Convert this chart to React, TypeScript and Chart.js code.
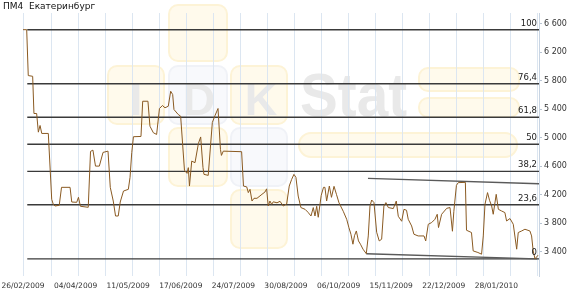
import React, { useEffect, useRef } from 'react';
import { Chart, registerables } from 'chart.js';

Chart.register(...registerables);

const chartTitle = 'ПМ4  Екатеринбург';

// position along the axis (label interval = 37 units)
const priceX = [
  0, 2.6, 3.7, 6.8, 7.7, 9.6, 10.8, 12, 13.2, 17.8,
  20.2, 21.3, 22.5, 25.5, 27.1, 33.1, 34.3, 37.8, 39, 40.4,
  45.9, 47.5, 49.2, 51, 53.7, 56.3, 59.8, 61.4, 63.5, 65.1,
  67, 68.4, 70.7, 74.1, 75.3, 76.5, 77.7, 83, 84.2, 87.9,
  89.3, 91.7, 94, 96, 98.1, 99.9, 102.2, 103.9, 105.3, 106.2,
  109.2, 110.9, 113.6, 115.4, 116.3, 117.1, 118.7, 121, 123.4, 125,
  126.6, 127.3, 130.3, 133.2, 135.1, 137.2, 138.9, 139.6, 140.9, 153.8,
  155.1, 157.4, 158.5, 159.7, 161.1, 162.5, 164.6, 168.1, 170.2, 171.4,
  172.5, 173.7, 174.9, 176.1, 178.7, 180.8, 183.1, 185.5, 187.3, 189,
  190.6, 192, 193.6, 195.5, 198.4, 200.5, 202.6, 204.2, 205.4, 206.6,
  207.7, 209.8, 211.4, 212.4, 213.6, 215.5, 217, 218.8, 220.5, 222.3,
  225.3, 227.7, 229.3, 230.7, 232.1, 233.2, 234.5, 236, 237.4, 239.2,
  241.5, 242.9, 244.1, 245.3, 246.9, 248.8, 250.6, 252.3, 253.9, 255.3,
  257, 260.5, 262.6, 264, 266.4, 268, 269.8, 271, 273.4, 275,
  278, 282.1, 283.3, 285.1, 287.5, 289.8, 291.4, 292.3, 294.5, 298.1,
  300.4, 302.1, 303.1, 304.9, 306.2, 311.2, 312, 315.5, 316.7, 320,
  322.6, 323.8, 325, 326.8, 328.2, 329.7, 330.8, 332.9, 334.4, 336.7,
  339, 340.2, 342.6, 344.9, 347.3, 348.4, 350.8, 353.1, 356.6, 357.8,
  358.9, 360.2, 362.3,
];

const priceValues = [
  6516, 6516, 5872, 5862, 5340, 5340, 5078, 5172, 5060, 5060,
  4136, 4066, 4042, 4052, 4304, 4304, 4098, 4094, 4164, 4038,
  4024, 4808, 4826, 4602, 4602, 4794, 4812, 4304, 4112, 3902,
  3902, 4098, 4252, 4276, 4444, 4790, 5014, 5018, 5512, 5512,
  5162, 5070, 5046, 5410, 5452, 5420, 5442, 5652, 5606, 5396,
  5326, 5302, 4542, 4500, 4580, 4322, 4672, 4650, 4920, 5011,
  4584, 4486, 4472, 5214, 5312, 5410, 4836, 4752, 4812, 4804,
  4322, 4310, 4230, 4276, 4112, 4150, 4150, 4206, 4238, 4283,
  4042, 4112, 4066, 4101, 4087, 4108, 4042, 4073, 4322, 4416,
  4486, 4444, 4182, 4020, 3996, 3954, 3902, 4020, 3902, 4038,
  3884, 4192, 4304, 4304, 4112, 4322, 4164, 4318, 4206, 4087,
  3968, 3856, 3737, 3646, 3506, 3625, 3692, 3552, 3506, 3436,
  3373, 3622, 4042, 4126, 4090, 3674, 3552, 3576, 4042, 4090,
  4020, 4006, 4112, 3898, 3828, 3996, 3982, 3856, 3762, 3646,
  3622, 3622, 3552, 3786, 3810, 3856, 3926, 3740, 3926, 4010,
  4020, 3688, 3968, 4332, 4370, 4374, 3702, 3670, 3412, 3390,
  3366, 3622, 4066, 4230, 4122, 4042, 3926, 4206, 3996, 3972,
  3950, 3832, 3866, 3786, 3436, 3670, 3692, 3716, 3692, 3622,
  3412, 3300, 3352,
];

const xTickPositions = [0, 37, 74, 111, 148, 185, 222, 259, 296, 333];
const xTickLabels = [
  '26/02/2009', '04/04/2009', '11/05/2009', '17/06/2009', '24/07/2009',
  '30/08/2009', '06/10/2009', '15/11/2009', '22/12/2009', '28/01/2010',
];
const xGridStep = 19;
const xGridStart = 0.7;
const xMin = 0;
const xMax = 363;

const yTicks = [3400, 3800, 4200, 4600, 5000, 5400, 5800, 6200, 6600];
const yMin = 3060;
const yMax = 6750;

const fibLevels = [100, 76.4, 61.8, 50, 38.2, 23.6, 0];
const fibStartX = 3;

const channelUpperX = [242.7, 363];
const channelUpperY = [4430, 4355];
const channelLowerX = [241.5, 361.6];
const channelLowerY = [3373, 3300];

const FONT = '"DejaVu Sans", sans-serif';

const watermarkPlugin = {
  id: 'watermark',
  beforeDraw(chart: any) {
    const ctx = chart.ctx as CanvasRenderingContext2D;
    ctx.save();
    const rr = (x: number, y: number, w: number, h: number, r: number, fill: string, stroke: string) => {
      ctx.beginPath();
      (ctx as any).roundRect(x + 1, y + 1, w - 2, h - 2, r);
      ctx.fillStyle = fill;
      ctx.fill();
      ctx.lineWidth = 2;
      ctx.strokeStyle = stroke;
      ctx.stroke();
    };
    const Y = '#FFFAEC';
    const YS = '#FDF3D6';
    const B = '#F8F9FC';
    const BS = '#F0F2F7';
    rr(168, 4, 60, 58, 9, Y, YS);
    rr(107, 65, 58, 60, 9, Y, YS);
    rr(168, 65, 60, 60, 9, B, BS);
    rr(230, 65, 58, 60, 9, Y, YS);
    rr(168, 127, 60, 60, 9, Y, YS);
    rr(230, 127, 58, 60, 9, B, BS);
    rr(230, 189, 58, 60, 9, Y, YS);
    rr(418, 67, 102, 25, 9, Y, YS);
    rr(418, 97, 102, 21, 9, Y, YS);
    rr(298, 132, 220, 26, 13, Y, YS);
    ctx.fillStyle = '#E9E9E9';
    ctx.font = 'bold 45px "Liberation Sans", sans-serif';
    ctx.textBaseline = 'alphabetic';
    ctx.textAlign = 'center';
    ctx.fillText('I', 136, 115);
    ctx.fillText('D', 199, 115);
    ctx.fillText('K', 261, 115);
    ctx.font = 'bold 62px "Liberation Sans", sans-serif';
    ctx.textAlign = 'left';
    const w = ctx.measureText('Stat').width;
    ctx.translate(300, 116);
    ctx.scale(107 / w, 1);
    ctx.fillText('Stat', 0, 0);
    ctx.restore();
  },
};

const labelsPlugin = {
  id: 'labels',
  afterDatasetsDraw(chart: any) {
    const ctx = chart.ctx as CanvasRenderingContext2D;
    const ys = chart.scales.y;
    const area = chart.chartArea;
    const hi = Math.max(...priceValues);
    const lo = Math.min(...priceValues);
    ctx.save();
    ctx.fillStyle = '#1a1a1a';
    ctx.font = `8.5px ${FONT}`;
    ctx.textAlign = 'right';
    ctx.textBaseline = 'bottom';
    fibLevels.forEach((p) => {
      const v = lo + (p / 100) * (hi - lo);
      const py = ys.getPixelForValue(v);
      ctx.fillText(String(p).replace('.', ','), area.right - 2, py - 2);
    });
    ctx.restore();
  },
  afterDraw(chart: any) {
    const ctx = chart.ctx as CanvasRenderingContext2D;
    ctx.save();
    ctx.fillStyle = '#111';
    ctx.font = `9px ${FONT}`;
    ctx.textAlign = 'left';
    ctx.textBaseline = 'top';
    ctx.fillText(chartTitle, 3, 2);
    ctx.restore();
  },
};

export default function App() {
  const ref = useRef<HTMLCanvasElement | null>(null);

  useEffect(() => {
    if (!ref.current) return;
    const hi = Math.max(...priceValues);
    const lo = Math.min(...priceValues);
    const fibSets = fibLevels.map((p) => {
      const v = lo + (p / 100) * (hi - lo);
      return {
        label: 'fib' + p,
        data: [
          { x: fibStartX, y: v },
          { x: xMax, y: v },
        ],
        borderColor: '#3a3a3a',
        borderWidth: 1.4,
        pointRadius: 0,
        fill: false,
      };
    });
    const noPad = (axis: any) => {
      axis.paddingLeft = 0;
      axis.paddingRight = 0;
    };
    const chart = new Chart(ref.current, {
      type: 'line',
      data: {
        datasets: [
          {
            label: 'price',
            data: priceX.map((x, i) => ({ x, y: priceValues[i] })),
            borderColor: '#8a5a22',
            borderWidth: 1,
            pointRadius: 0,
            tension: 0,
            fill: false,
          },
          {
            label: 'upper',
            data: channelUpperX.map((x, i) => ({ x, y: channelUpperY[i] })),
            borderColor: '#5a5a5a',
            borderWidth: 1.4,
            pointRadius: 0,
            fill: false,
          },
          {
            label: 'lower',
            data: channelLowerX.map((x, i) => ({ x, y: channelLowerY[i] })),
            borderColor: '#5a5a5a',
            borderWidth: 1.4,
            pointRadius: 0,
            fill: false,
          },
          ...fibSets,
        ] as any,
      },
      options: {
        animation: false,
        responsive: false,
        devicePixelRatio: 1,
        events: [],
        layout: { padding: { left: 23, top: 13, right: 0, bottom: 0 } },
        plugins: {
          legend: { display: false },
          tooltip: { enabled: false },
          title: { display: false },
        },
        scales: {
          xg: {
            type: 'linear',
            position: 'bottom',
            min: xMin,
            max: xMax,
            afterBuildTicks: (axis: any) => {
              const t = [];
              for (let v = xGridStart; v <= xMax; v += xGridStep) t.push({ value: v });
              axis.ticks = t;
            },
            afterFit: (axis: any) => {
              axis.height = 0;
              noPad(axis);
            },
            ticks: { display: false },
            grid: { color: '#DCE6F1', lineWidth: 1, drawTicks: false },
            border: { display: false },
          },
          x: {
            type: 'linear',
            position: 'bottom',
            min: xMin,
            max: xMax,
            afterBuildTicks: (axis: any) => {
              axis.ticks = xTickPositions.map((v) => ({ value: v }));
            },
            afterFit: (axis: any) => {
              axis.height = 18;
              noPad(axis);
            },
            ticks: {
              autoSkip: false,
              maxRotation: 0,
              minRotation: 0,
              padding: 6,
              color: '#333',
              font: { family: FONT, size: 7.5 },
              callback: (_v: any, i: number) => xTickLabels[i],
            },
            grid: { display: false, drawTicks: false },
            border: { display: false },
          },
          y: {
            type: 'linear',
            position: 'right',
            min: yMin,
            max: yMax,
            afterBuildTicks: (axis: any) => {
              axis.ticks = yTicks.map((v) => ({ value: v }));
            },
            afterFit: (axis: any) => {
              axis.width = 31;
            },
            ticks: {
              padding: 2,
              color: '#333',
              font: { family: FONT, size: 8 },
              callback: (v: any) => String(v).replace(/\B(?=(\d{3})+(?!\d))/g, ' '),
            },
            grid: { drawOnChartArea: false, color: '#B8C4D2', tickLength: 3 },
            border: { color: '#C8D4E2' },
          },
        },
      },
      plugins: [watermarkPlugin, labelsPlugin],
    });
    return () => chart.destroy();
  }, []);

  return (
    <div style={{ position: 'fixed', left: 0, top: 0, width: 570, height: 294, background: '#fff' }}>
      <canvas ref={ref} width={570} height={294} style={{ display: 'block' }} />
    </div>
  );
}
